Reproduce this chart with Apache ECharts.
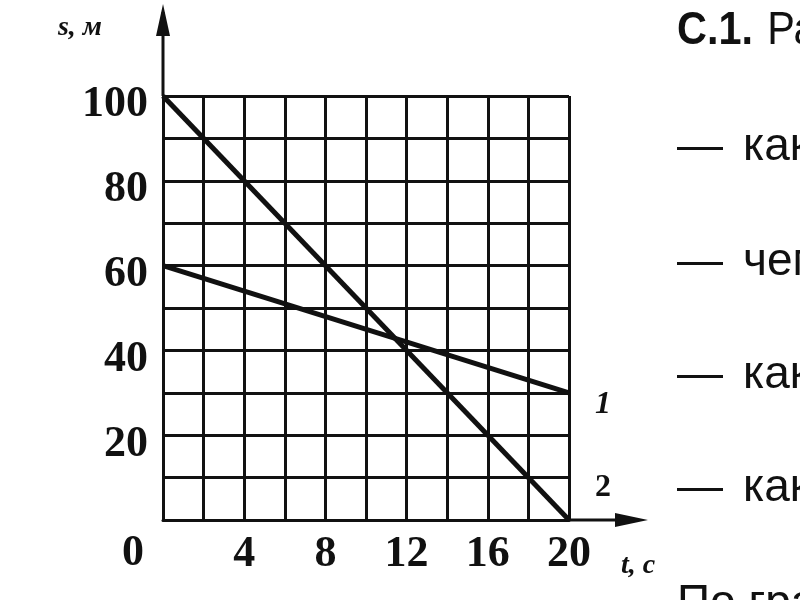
<!DOCTYPE html>
<html><head><meta charset="utf-8">
<script src="https://cdn.jsdelivr.net/npm/echarts@6/dist/echarts.min.js"></script>
<style>html,body{margin:0;padding:0;background:#fff}#c{width:800px;height:600px}</style>
</head><body><div id="c"></div>
<script>
const tValues = [0, 20];
const line1 = [60, 30];
const line2 = [100, 0];
const xTicks = [4, 8, 12, 16, 20];
const yTicks = [20, 40, 60, 80, 100];
const seriesNames = ['1', '2'];
const sideWords = ['как', 'чем', 'как', 'как'];

const chart = echarts.init(document.getElementById('c'));
const numFont = {fontFamily: 'Liberation Serif', fontWeight: 'bold', fontSize: 44, color: '#111'};
chart.setOption({
  animation: false,
  backgroundColor: '#fff',
  grid: {left: 163, right: 231, top: 96, bottom: 80},
  xAxis: {
    type: 'value', min: 0, max: 20, interval: 2,
    axisLine: {show: true, lineStyle: {color: '#111', width: 3}},
    axisTick: {show: false},
    splitLine: {show: true, lineStyle: {color: '#111', width: 3}},
    axisLabel: Object.assign({margin: 13, formatter: v => xTicks.includes(v) ? String(v) : ''}, numFont)
  },
  yAxis: {
    type: 'value', min: 0, max: 100, interval: 10,
    axisLine: {show: true, lineStyle: {color: '#111', width: 3}},
    axisTick: {show: false},
    splitLine: {show: true, lineStyle: {color: '#111', width: 3}},
    axisLabel: Object.assign({margin: 15, lineHeight: 18, formatter: v => yTicks.includes(v) ? '\n' + v : ''}, numFont)
  },
  series: [
    {name: seriesNames[0], type: 'line', data: tValues.map((t, i) => [t, line1[i]]), symbol: 'none',
     lineStyle: {color: '#111', width: 5}, z: 5,
     endLabel: {show: true, formatter: seriesNames[0], fontFamily: 'Liberation Serif', fontStyle: 'italic', fontWeight: 'bold', fontSize: 32, color: '#111', offset: [18, 12]}},
    {name: seriesNames[1], type: 'line', data: tValues.map((t, i) => [t, line2[i]]), symbol: 'none',
     lineStyle: {color: '#111', width: 5}, z: 5,
     endLabel: {show: true, formatter: seriesNames[1], fontFamily: 'Liberation Serif', fontWeight: 'bold', fontSize: 32, color: '#111', offset: [18, -32]}}
  ]
});

const o = chart.convertToPixel({gridIndex: 0}, [0, 0]);
const xEnd = chart.convertToPixel({gridIndex: 0}, [20, 0]);
const yTop = chart.convertToPixel({gridIndex: 0}, [0, 100]);
const sans = '"Liberation Sans"';
chart.setOption({
  graphic: [
    {type: 'line', shape: {x1: o[0], y1: yTop[1], x2: o[0], y2: 12}, style: {stroke: '#111', lineWidth: 3}},
    {type: 'polygon', shape: {points: [[o[0], 4], [o[0] - 7, 36], [o[0] + 7, 36]]}, style: {fill: '#111'}},
    {type: 'line', shape: {x1: xEnd[0], y1: o[1], x2: 636, y2: o[1]}, style: {stroke: '#111', lineWidth: 3}},
    {type: 'polygon', shape: {points: [[648, o[1]], [615, o[1] - 7], [615, o[1] + 7]]}, style: {fill: '#111'}},
    {type: 'text', style: {text: '0', x: o[0] - 30, y: o[1] + 34, font: 'bold 44px "Liberation Serif"', fill: '#111', align: 'center', verticalAlign: 'middle'}},
    {type: 'text', style: {text: 's, м', x: 80, y: 28, font: 'italic bold 28px "Liberation Serif"', fill: '#111', align: 'center', verticalAlign: 'middle'}},
    {type: 'text', style: {text: 't, с', x: 638, y: 566, font: 'italic bold 28px "Liberation Serif"', fill: '#111', align: 'center', verticalAlign: 'middle'}},
    {type: 'text', x: 677, y: 31, scaleX: 0.9, style: {
      text: '{b|С.1.}{r|Ра}', x: 0, y: 0, verticalAlign: 'middle',
      rich: {b: {font: 'bold 46px ' + sans, fill: '#111'}, r: {font: '46px ' + sans, fill: '#111', padding: [0, 0, 0, 16]}}}},
    ...sideWords.map((s, i) => ({type: 'text', style: {
      text: '{d|—}{t|' + s + '}', x: 677, y: [147, 262, 375, 488][i], verticalAlign: 'middle',
      rich: {d: {font: '46px ' + sans, fill: '#111'}, t: {font: '46px ' + sans, fill: '#111', padding: [0, 0, 0, 20]}}}})),
    {type: 'text', style: {text: 'По гра', x: 677, y: 604, font: '46px ' + sans, fill: '#111', verticalAlign: 'middle'}}
  ]
});
</script></body></html>
